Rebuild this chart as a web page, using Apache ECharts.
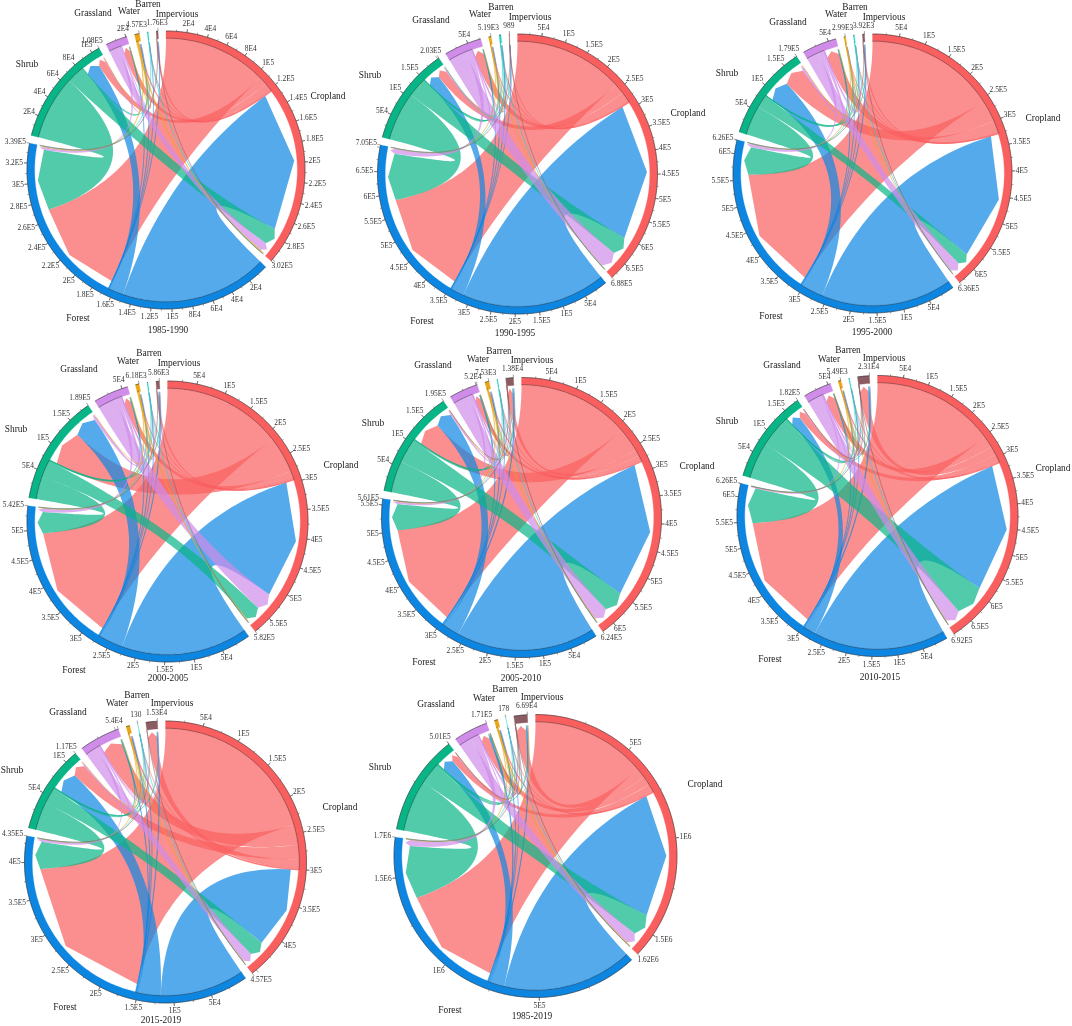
<!DOCTYPE html>
<html><head><meta charset="utf-8">
<style>html,body{margin:0;padding:0;background:#fff}#c{width:1072px;height:1026px}</style>
<script src="https://cdn.jsdelivr.net/npm/echarts@6/dist/echarts.min.js"></script>
</head><body><div id="c"></div>
<script>
// ---------- data ----------
const categories = ["Cropland","Forest","Shrub","Grassland","Water","Barren","Impervious"];
const periods = ["1985-1990","1990-1995","1995-2000","2000-2005","2005-2010","2010-2015","2015-2019","1985-2019"];

// sector totals (area changed, sum of in + out) per class
const sizes1985 = [302000,339000,108000,21000,4570,1000,1760];
const sizes1990 = [688000,705000,203000,78000,5190,4000,989];
const sizes1995 = [636000,626000,179000,65000,2990,2000,3920];
const sizes2000 = [582000,542000,189000,60000,6180,1500,5860];
const sizes2005 = [624000,561000,195000,52000,7530,1500,13800];
const sizes2010 = [692000,626000,182000,55000,5490,1500,23100];
const sizes2015 = [457000,435000,117000,54000,5000,130,15300];
const sizes8519 = [1620000,1700000,501000,171000,18000,178,66900];

// transition flows (row -> column), thousands
const flows1985 = [[0,105,8,7,1.2,.4,1.2],[150,0,15,.3,.5,.1,.3],[18,65,0,.2,.4,0,0],[9,3,1,0,.2,0,0],[1.2,.8,.1,.1,0,0,0],[.3,.1,0,0,0,0,0],[.1,.1,0,0,0,0,0]];
const flows1990 = [[0,240,22,22,1.5,1.5,.5],[318,0,28,1,1,1,.2],[42,108,0,1,.5,.2,.1],[40,12,3,0,.4,.2,.1],[1,.5,.1,.1,0,0,0],[.6,.3,.1,0,0,0,0],[.05,.04,0,0,0,0,0]];
const flows1995 = [[0,256,43,24,.6,.4,1.5],[261,0,45,1,.4,.3,1],[25,58,0,1,.3,.1,.3],[22,7,5,0,.2,.1,.3],[.6,.4,.1,.1,0,0,0],[.5,.2,0,0,0,0,0],[.2,.1,0,0,0,0,0]];
const flows2000 = [[0,216,66,13,1,.3,2.5],[224,0,42,1,1,.3,1.5],[30,40,0,1,.5,.1,.5],[33,7,5,0,.4,.1,.4],[1.8,1,.2,.1,0,0,0],[.4,.2,0,0,0,0,0],[.2,.1,0,0,0,0,0]];
const flows2005 = [[0,211,45,10,2.5,.3,12],[270,0,30,1.5,1.5,.3,3],[42,54,0,1,.5,.1,1],[28,5,3,0,.3,.1,.5],[1.5,1,.2,.1,0,0,0],[.4,.2,0,0,0,0,0],[.6,.4,.1,.1,0,0,0]];
const flows2010 = [[0,250,16,22,2,.3,18],[273,0,22,1,1,.3,3],[66,76,0,.7,.4,.1,.8],[33,2,2,0,.3,.1,.4],[1,.6,.1,.1,0,0,0],[.4,.2,0,0,0,0,0],[.4,.3,.1,.1,0,0,0]];
const flows2015 = [[0,238,20,28,2,.05,13],[118,0,32,1,1,.03,1.2],[23,40,0,1,.4,.02,.5],[15,4,2,0,.3,.02,.3],[.8,.4,.1,.1,0,0,0],[.01,.01,0,0,0,0,0],[.1,.1,0,0,0,0,0]];
const flows8519 = [[0,602,40,45,7,.06,52],[683,0,72,8,4,.04,6],[120,290,0,5,3,.02,3],[65,34,5,0,1,.01,2],[5,3,.5,.5,0,0,.3],[.05,.02,0,0,0,0,0],[.8,.5,.1,.1,0,0,0]];

// tick labels; each label's text is also its value on that sector's scale
const ticks1985 = [["2E4","4E4","6E4","8E4","1E5","1.2E5","1.4E5","1.6E5","1.8E5","2E5","2.2E5","2.4E5","2.6E5","2.8E5","3.02E5"],["2E4","4E4","6E4","8E4","1E5","1.2E5","1.4E5","1.6E5","1.8E5","2E5","2.2E5","2.4E5","2.6E5","2.8E5","3E5","3.2E5","3.39E5"],["2E4","4E4","6E4","8E4","1E5","1.08E5"],["2E4"],["4.57E3"],[],["1.76E3"]];
const ticks1990 = [["5E4","1E5","1.5E5","2E5","2.5E5","3E5","3.5E5","4E5","4.5E5","5E5","5.5E5","6E5","6.5E5","6.88E5"],["5E4","1E5","1.5E5","2E5","2.5E5","3E5","3.5E5","4E5","4.5E5","5E5","5.5E5","6E5","6.5E5","7.05E5"],["5E4","1E5","1.5E5","2.03E5"],["5E4"],["5.19E3"],[],["989"]];
const ticks1995 = [["5E4","1E5","1.5E5","2E5","2.5E5","3E5","3.5E5","4E5","4.5E5","5E5","5.5E5","6E5","6.36E5"],["5E4","1E5","1.5E5","2E5","2.5E5","3E5","3.5E5","4E5","4.5E5","5E5","5.5E5","6E5","6.26E5"],["5E4","1E5","1.5E5","1.79E5"],["5E4"],["2.99E3"],[],["3.92E3"]];
const ticks2000 = [["5E4","1E5","1.5E5","2E5","2.5E5","3E5","3.5E5","4E5","4.5E5","5E5","5.5E5","5.82E5"],["5E4","1E5","1.5E5","2E5","2.5E5","3E5","3.5E5","4E5","4.5E5","5E5","5.42E5"],["5E4","1E5","1.5E5","1.89E5"],["5E4"],["6.18E3"],[],["5.86E3"]];
const ticks2005 = [["5E4","1E5","1.5E5","2E5","2.5E5","3E5","3.5E5","4E5","4.5E5","5E5","5.5E5","6E5","6.24E5"],["5E4","1E5","1.5E5","2E5","2.5E5","3E5","3.5E5","4E5","4.5E5","5E5","5.5E5","5.61E5"],["5E4","1E5","1.5E5","1.95E5"],["5.2E4"],["7.53E3"],[],["1.38E4"]];
const ticks2010 = [["5E4","1E5","1.5E5","2E5","2.5E5","3E5","3.5E5","4E5","4.5E5","5E5","5.5E5","6E5","6.5E5","6.92E5"],["5E4","1E5","1.5E5","2E5","2.5E5","3E5","3.5E5","4E5","4.5E5","5E5","5.5E5","6E5","6.26E5"],["5E4","1E5","1.5E5","1.82E5"],["5E4"],["5.49E3"],[],["2.31E4"]];
const ticks2015 = [["5E4","1E5","1.5E5","2E5","2.5E5","3E5","3.5E5","4E5","4.57E5"],["5E4","1E5","1.5E5","2E5","2.5E5","3E5","3.5E5","4E5","4.35E5"],["5E4","1E5","1.17E5"],["5.4E4"],[],["130"],["1.53E4"]];
const ticks8519 = [["5E5","1E6","1.5E6","1.62E6"],["5E5","1E6","1.5E6","1.7E6"],["5.01E5"],["1.71E5"],[],["178"],["6.69E4"]];
const tickSteps = [20000,50000,50000,50000,50000,50000,50000,500000];

const allSizes = [sizes1985,sizes1990,sizes1995,sizes2000,sizes2005,sizes2010,sizes2015,sizes8519];
const allFlows = [flows1985,flows1990,flows1995,flows2000,flows2005,flows2010,flows2015,flows8519];
const allTicks = [ticks1985,ticks1990,ticks1995,ticks2000,ticks2005,ticks2010,ticks2015,ticks8519];

// ---------- layout & style ----------
const colors = ["#fa5f60","#0d86e2","#08b586","#cf8ce9","#eba516","#22d4cc","#8b5c62"];
const centers = [[166,170,139],[517.5,174,140],[872.5,173.5,139.5],[167.5,521.5,140.5],[521.5,517.5,140],[877.5,516,140.5],[165.5,862,141],[535.5,856,141.5]];
const titlePos = [[168,331],[515,334],[872,333],[168,679],[521,679],[880,678],[161,1021],[532,1017]];
const namePos = [
 [[328,97],[78,319],[27,65],[93,14],[129,12],[148,5],[177,15]],
 [[688,114],[422,322],[370,76],[431,21],[480,15],[501,8],[530,18]],
 [[1043,119],[771,317],[727,74],[788,23],[836,15],[855,8],[884,18]],
 [[341,466],[74,671],[16,430],[79,370],[128,362],[149,354],[179,364]],
 [[697,467],[424,663],[373,424],[433,366],[478,360],[499,352],[532,361]],
 [[1053,469],[770,660],[727,422],[782,366],[829,360],[848,351],[884,359]],
 [[340,808],[65,1008],[12,771],[68,713],[117,704],[137,696],[172,704]],
 [[705,785],[450,1011],[380,768],[436,705],[484,699],[505,690],[542,698]]
];
const GAP_DEG = 3.3, R_IN = 0.945, R_TIP = 0.925, R_EDGE = 0.89;
const SERIF = '"Liberation Serif","Times New Roman",serif';

function buildDiagram(d){
  const sizes = allSizes[d], flows = allFlows[d], ticks = allTicks[d], n = categories.length;
  const sum = sizes.reduce((a,b)=>a+b,0);
  const gap = sum*GAP_DEG/(360-n*GAP_DEG);
  const total = sum+gap*n;
  const starts = []; let p = 0;
  for(let i=0;i<n;i++){ starts.push(p); p += sizes[i]+gap; }
  // allocate ribbon spans in each sector: outgoing (descending) then incoming (descending)
  const srcSpan = {}, dstSpan = {};
  for(let i=0;i<n;i++){
    const out = [], inc = [];
    for(let j=0;j<n;j++){
      if(flows[i][j]>0) out.push([j,flows[i][j]]);
      if(flows[j][i]>0) inc.push([j,flows[j][i]]);
    }
    out.sort((a,b)=>b[1]-a[1]); inc.sort((a,b)=>b[1]-a[1]);
    const tot = out.concat(inc).reduce((a,b)=>a+b[1],0)||1;
    const s = sizes[i]/tot; let q = starts[i];
    out.forEach(o=>{ srcSpan[i+'_'+o[0]] = [q,q+o[1]*s]; q += o[1]*s; });
    inc.forEach(o=>{ dstSpan[o[0]+'_'+i] = [q,q+o[1]*s]; q += o[1]*s; });
  }
  const marks = [];
  for(let i=0;i<n;i++) for(let j=0;j<n;j++){
    if(flows[i][j]>0) marks.push({t:'ribbon',c:colors[i],a:srcSpan[i+'_'+j],b:dstSpan[i+'_'+j]});
  }
  for(let i=0;i<n;i++){
    marks.push({t:'ring',c:colors[i],a:[starts[i],starts[i]+sizes[i]]});
    // source-side shade line
    let q = 0;
    for(let j=0;j<n;j++) if(flows[i][j]>0){ const s=srcSpan[i+'_'+j]; q=Math.max(q,s[1]); }
    if(q>0) marks.push({t:'shade',a:[starts[i],q]});
    const step = tickSteps[d];
    if(sizes[i]>step*0.4){
      for(let m=1; m*step/2<sizes[i]; m++){
        marks.push({t:'tick',pos:starts[i]+m*step/2,major:m%2===0});
      }
    }
    ticks[i].forEach(l=>{
      const v = Number(l);
      const pos = starts[i]+Math.min(v,sizes[i]);
      marks.push({t:'tick',pos:pos,major:true});
      marks.push({t:'label',pos:pos,text:l});
    });
  }
  return {marks,total};
}

function qbez(p0,c,p1,steps){
  const r=[];
  for(let k=0;k<=steps;k++){
    const u=k/steps,v=1-u;
    r.push([v*v*p0[0]+2*u*v*c[0]+u*u*p1[0], v*v*p0[1]+2*u*v*c[1]+u*u*p1[1]]);
  }
  return r;
}
function arcPts(api,r,a0,a1,unitPerStep){
  const steps=Math.max(1,Math.ceil(Math.abs(a1-a0)/unitPerStep));
  const pts=[];
  for(let k=0;k<=steps;k++) pts.push(api.coord([r,a0+(a1-a0)*k/steps]));
  return pts;
}

function makeRender(marks,total,R){
  const u = total/360; // axis units per degree: arc sampling step
  return function(params,api){
    const m = marks[params.dataIndex];
    const ctr = api.coord([0,0]);
    if(m.t==='ribbon'){
      const a0=m.a[0],a1=m.a[1],b0=m.b[0],b1=m.b[1];
      const pts=arcPts(api,R_IN,a0,a1,u);
      const e0=api.coord([R_EDGE,b0]),tip=api.coord([R_TIP,(b0+b1)/2]),e1=api.coord([R_EDGE,b1]);
      const sEnd=pts[pts.length-1];
      const path=pts.concat(qbez(sEnd,ctr,e0,40),[tip],qbez(e1,ctr,pts[0],40));
      const thin=(a1-a0)<u*1.2;
      return {type:'polygon',shape:{points:path},silent:true,
        style:{fill:m.c,stroke:thin?m.c:null,lineWidth:thin?0.4:0,opacity:0.7}};
    }
    if(m.t==='ring'){
      const outer=arcPts(api,1,m.a[0],m.a[1],u);
      const inner=arcPts(api,R_IN,m.a[1],m.a[0],u);
      return {type:'group',children:[
        {type:'polygon',shape:{points:outer.concat(inner)},style:{fill:m.c,stroke:m.c,lineWidth:0.3}},
        {type:'polyline',shape:{points:outer},style:{fill:'none',stroke:'#333',lineWidth:0.6}}
      ]};
    }
    if(m.t==='shade'){
      return {type:'polyline',shape:{points:arcPts(api,R_IN+0.004,m.a[0],m.a[1],u)},
        style:{fill:'none',stroke:'rgba(70,70,70,0.55)',lineWidth:0.9}};
    }
    if(m.t==='tick'){
      const len=(m.major?3.2:1.8)/R;
      const p0=api.coord([1,m.pos]),p1=api.coord([1+len,m.pos]);
      return {type:'line',shape:{x1:p0[0],y1:p0[1],x2:p1[0],y2:p1[1]},style:{stroke:'#444',lineWidth:0.5}};
    }
    if(m.t==='label'){
      const p=api.coord([1+5/R,m.pos]);
      const dx=p[0]-ctr[0],dy=p[1]-ctr[1],L=Math.hypot(dx,dy);
      const w=m.text.length*3.2;
      return {type:'text',x:p[0]+dx/L*(w/2),y:p[1]+dy/L*3.5,silent:true,
        style:{text:m.text,font:'7.4px '+SERIF,fill:'#333',align:'center',verticalAlign:'middle'}};
    }
  };
}

const polar=[],angleAxis=[],radiusAxis=[],series=[],graphics=[];
periods.forEach((name,d)=>{
  const [cx,cy,R]=centers[d];
  const {marks,total}=buildDiagram(d);
  polar.push({center:[cx,cy],radius:[0,R]});
  angleAxis.push({polarIndex:d,type:'value',min:0,max:total,startAngle:90,clockwise:true,show:false});
  radiusAxis.push({polarIndex:d,type:'value',min:0,max:1,show:false});
  series.push({type:'custom',coordinateSystem:'polar',polarIndex:d,clip:false,silent:true,animation:false,
    data:marks.map(()=>[1,0]),renderItem:makeRender(marks,total,R)});
  graphics.push({type:'text',x:titlePos[d][0],y:titlePos[d][1],silent:true,
    style:{text:name,font:'9.4px '+SERIF,fill:'#222',align:'center',verticalAlign:'middle'}});
  categories.forEach((c,i)=>{
    graphics.push({type:'text',x:namePos[d][i][0],y:namePos[d][i][1],silent:true,
      style:{text:c,font:'9.4px '+SERIF,fill:'#222',align:'center',verticalAlign:'middle'}});
  });
});
const chart=echarts.init(document.getElementById('c'),null,{renderer:'canvas'});
chart.setOption({animation:false,backgroundColor:'#fff',polar,angleAxis,radiusAxis,series,graphic:{elements:graphics}});
</script></body></html>
